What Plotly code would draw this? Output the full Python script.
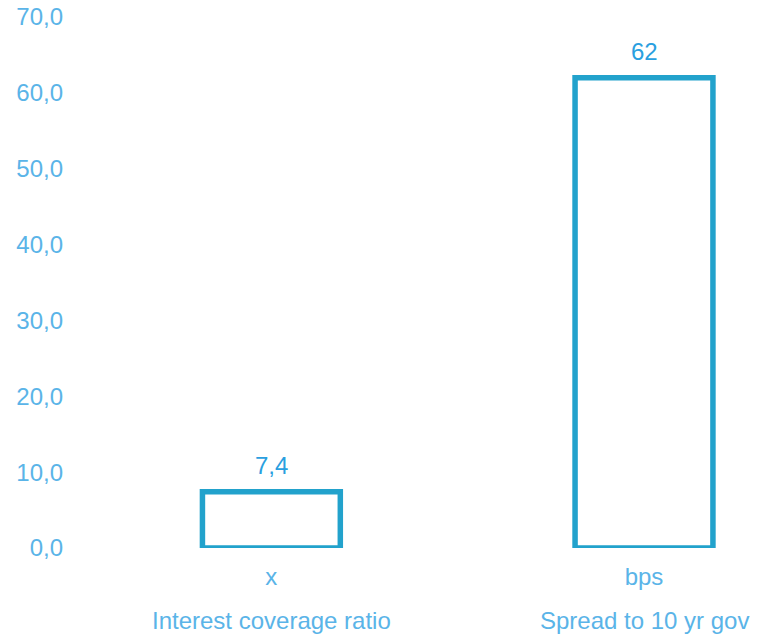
import plotly.graph_objects as go

categories = ["Interest coverage ratio", "Spread to 10 yr gov"]
units = ["x", "bps"]
values = [7.4, 62]
value_labels = ["7,4", "62"]
y_ticks = [0, 10, 20, 30, 40, 50, 60, 70]

FONT = "Liberation Sans, Arial, sans-serif"
TICK_COLOR = "#5ab4e8"
BAR_COLOR = "#22a2cc"
LABEL_COLOR = "#2a9fe0"
FS = 24

xs = list(range(len(categories)))

fig = go.Figure()
fig.add_trace(go.Bar(
    x=xs, y=values, width=0.37,
    marker=dict(color="rgba(255,255,255,0)", line=dict(color=BAR_COLOR, width=5.5)),
    hoverinfo="skip",
))

annotations = []
for x, v, t in zip(xs, values, value_labels):
    annotations.append(dict(x=x, y=v, xref="x", yref="y", text=t, showarrow=False,
                            yanchor="bottom", yshift=11,
                            font=dict(family=FONT, size=FS, color=LABEL_COLOR)))
for x, c in zip(xs, categories):
    annotations.append(dict(x=x, y=-0.136, xref="x", yref="paper", text=c, showarrow=False,
                            yanchor="middle",
                            font=dict(family=FONT, size=FS, color=TICK_COLOR)))

fig.update_layout(
    width=761, height=634,
    margin=dict(l=75, r=0, t=17, b=86),
    paper_bgcolor="white", plot_bgcolor="white",
    separators=",.",
    showlegend=False,
    annotations=annotations,
    font=dict(family=FONT, size=FS, color=TICK_COLOR),
    xaxis=dict(tickmode="array", tickvals=xs, ticktext=units, range=[-0.527, 1.314],
               showgrid=False, zeroline=False, showline=False, ticks="",
               ticklabelstandoff=12,
               tickfont=dict(family=FONT, size=FS, color=TICK_COLOR), fixedrange=True),
    yaxis=dict(range=[0, 70], tickmode="array", tickvals=y_ticks, tickformat=".1f",
               showgrid=False, zeroline=False, showline=False, ticks="",
               ticklabelstandoff=11,
               tickfont=dict(family=FONT, size=FS, color=TICK_COLOR), fixedrange=True),
)

fig.write_html("out.html")
